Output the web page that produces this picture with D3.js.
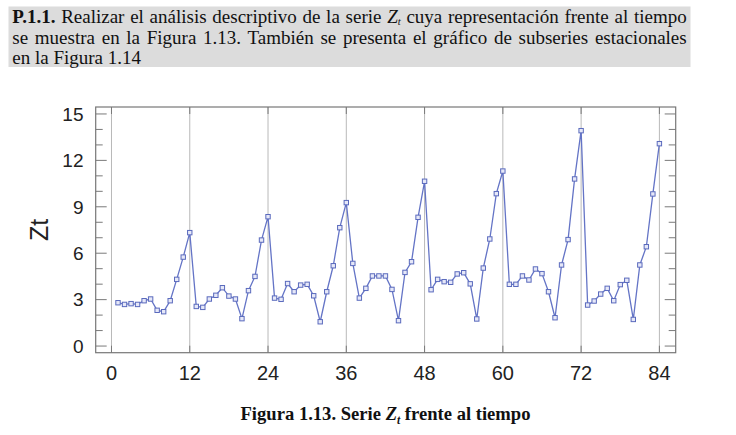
<!DOCTYPE html>
<html>
<head>
<meta charset="utf-8">
<script src="https://cdn.jsdelivr.net/npm/d3@7"></script>
<style>
  html, body { margin: 0; padding: 0; background: #fff; }
  svg { display: block; }
</style>
</head>
<body>
<svg id="chart" width="736" height="435"></svg>
<script>
// ---- data ----
const values = [
  2.80, 2.69, 2.74, 2.69, 2.93, 3.04, 2.31, 2.22, 2.93, 4.31, 5.75, 7.33,
  2.56, 2.50, 3.04, 3.28, 3.77, 3.23, 3.04, 1.77, 3.58, 4.50, 6.85, 8.36,
  3.10, 3.02, 4.04, 3.51, 3.94, 3.99, 3.25, 1.57, 3.51, 5.19, 7.65, 9.27,
  5.34, 3.10, 3.73, 4.53, 4.53, 4.53, 3.66, 1.64, 4.76, 5.45, 8.32, 10.65,
  3.64, 4.31, 4.16, 4.12, 4.66, 4.74, 4.02, 1.75, 5.04, 6.92, 9.85, 11.31,
  3.99, 3.99, 4.53, 4.27, 4.98, 4.68, 3.51, 1.83, 5.24, 6.88, 10.80, 13.92,
  2.65, 2.91, 3.36, 3.73, 2.93, 3.97, 4.25, 1.72, 5.24, 6.42, 9.83, 13.08
];
const xTicks = [0, 12, 24, 36, 48, 60, 72, 84];
const yTicks = [0, 3, 6, 9, 12, 15];
const yMinorTicks = [0,1,2,3,4,5,6,7,8,9,10,11,12,13,14,15];
const headerLine2 = "se muestra en la Figura 1.13. También se presenta el gráfico de subseries estacionales";
const headerLine3 = "en la Figura 1.14";

const svg = d3.select("#chart");

// ---- header box ----
svg.append("rect").attr("x", 8.5).attr("y", 6.5).attr("width", 682).attr("height", 60.5)
  .attr("fill", "#dcdcdc");

const serif = "'Liberation Serif', 'Times New Roman', serif";
const hx = 12.3, hRight = 686.7;
const baselines = [22.8, 43.8, 64];
const hSize = 19;

const l1 = svg.append("text").attr("x", hx).attr("y", baselines[0])
  .attr("font-family", serif).attr("font-size", hSize).attr("fill", "#111");
l1.append("tspan").attr("font-weight", "bold").text("P.1.1.");
l1.append("tspan").text(" Realizar el análisis descriptivo de la serie ");
l1.append("tspan").attr("font-style", "italic").text("Z");
l1.append("tspan").attr("font-style", "italic").attr("font-size", 10.5).attr("dy", 2.5).text("t");
l1.append("tspan").attr("dy", -2.5).text(" cuya representación frente al tiempo");

const l2 = svg.append("text").attr("x", hx).attr("y", baselines[1])
  .attr("font-family", serif).attr("font-size", hSize).attr("fill", "#111")
  .text(headerLine2);

svg.append("text").attr("x", hx).attr("y", baselines[2])
  .attr("font-family", serif).attr("font-size", hSize).attr("fill", "#111")
  .text(headerLine3);

function justify(sel, nSpaces) {
  const w = sel.node().getComputedTextLength();
  const ws = (hRight - hx - w) / nSpaces;
  sel.attr("word-spacing", ws);
}
justify(l1, 13);
justify(l2, 13);

// ---- plot ----
const pLeft = 95.7, pRight = 675.7, pTop = 107, pBottom = 352.7;
const x = d3.scaleLinear().domain([-2.42, 86.5]).range([pLeft, pRight]);
const y = d3.scaleLinear().domain([-0.43, 15.45]).range([pBottom, pTop]);

const g = svg.append("g");

g.selectAll(".vg").data(xTicks).enter().append("line")
  .attr("x1", d => x(d)).attr("x2", d => x(d))
  .attr("y1", pTop).attr("y2", pBottom)
  .attr("stroke", "#b9b9b9").attr("stroke-width", 1);

g.selectAll(".xtb").data(xTicks).enter().append("line")
  .attr("x1", d => x(d)).attr("x2", d => x(d))
  .attr("y1", pBottom).attr("y2", pBottom - 7)
  .attr("stroke", "#7a7a7a").attr("stroke-width", 1);
g.selectAll(".xtt").data(xTicks).enter().append("line")
  .attr("x1", d => x(d)).attr("x2", d => x(d))
  .attr("y1", pTop).attr("y2", pTop + 7)
  .attr("stroke", "#7a7a7a").attr("stroke-width", 1);

const isMajor = d => yTicks.includes(d);
g.selectAll(".ytl").data(yMinorTicks).enter().append("line")
  .attr("x1", pLeft).attr("x2", d => pLeft + (isMajor(d) ? 11 : 7))
  .attr("y1", d => y(d)).attr("y2", d => y(d))
  .attr("stroke", "#7a7a7a").attr("stroke-width", 1);
g.selectAll(".ytr").data(yMinorTicks).enter().append("line")
  .attr("x1", pRight).attr("x2", d => pRight - (isMajor(d) ? 11 : 7))
  .attr("y1", d => y(d)).attr("y2", d => y(d))
  .attr("stroke", "#7a7a7a").attr("stroke-width", 1);

g.append("rect").attr("x", pLeft).attr("y", pTop)
  .attr("width", pRight - pLeft).attr("height", pBottom - pTop)
  .attr("fill", "none").attr("stroke", "#777").attr("stroke-width", 1.2);

const sans = "'Liberation Sans', Arial, sans-serif";
g.selectAll(".xl").data(xTicks).enter().append("text")
  .attr("x", d => x(d)).attr("y", 380)
  .attr("text-anchor", "middle").attr("font-family", sans).attr("font-size", 20)
  .attr("fill", "#222").text(d => d);
g.selectAll(".yl").data(yTicks).enter().append("text")
  .attr("x", 83.5).attr("y", d => y(d)).attr("dy", "0.36em")
  .attr("text-anchor", "end").attr("font-family", sans).attr("font-size", 19)
  .attr("fill", "#222").text(d => d);

svg.append("text").attr("transform", "translate(48,230) rotate(-90)")
  .attr("text-anchor", "middle").attr("font-family", sans).attr("font-size", 25)
  .attr("fill", "#222").text("Zt");

const line = d3.line().x((d, i) => x(i + 1)).y(d => y(d));
g.append("path").datum(values).attr("d", line)
  .attr("fill", "none").attr("stroke", "#6474c6").attr("stroke-width", 1.3);

const ms = 4.4;
g.selectAll(".pt").data(values).enter().append("rect")
  .attr("x", (d, i) => x(i + 1) - ms / 2).attr("y", d => y(d) - ms / 2)
  .attr("width", ms).attr("height", ms)
  .attr("fill", "#e6e8f8").attr("stroke", "#5a6abd").attr("stroke-width", 1);

const cap = svg.append("text").attr("x", 385.5).attr("y", 420)
  .attr("text-anchor", "middle").attr("font-family", serif).attr("font-weight", "bold")
  .attr("font-size", 18.6).attr("fill", "#111");
cap.append("tspan").text("Figura 1.13. Serie ");
cap.append("tspan").attr("font-style", "italic").text("Z");
cap.append("tspan").attr("font-style", "italic").attr("font-size", 11.5).attr("dy", 4).text("t");
cap.append("tspan").attr("dy", -4).text(" frente al tiempo");
</script>
</body>
</html>
